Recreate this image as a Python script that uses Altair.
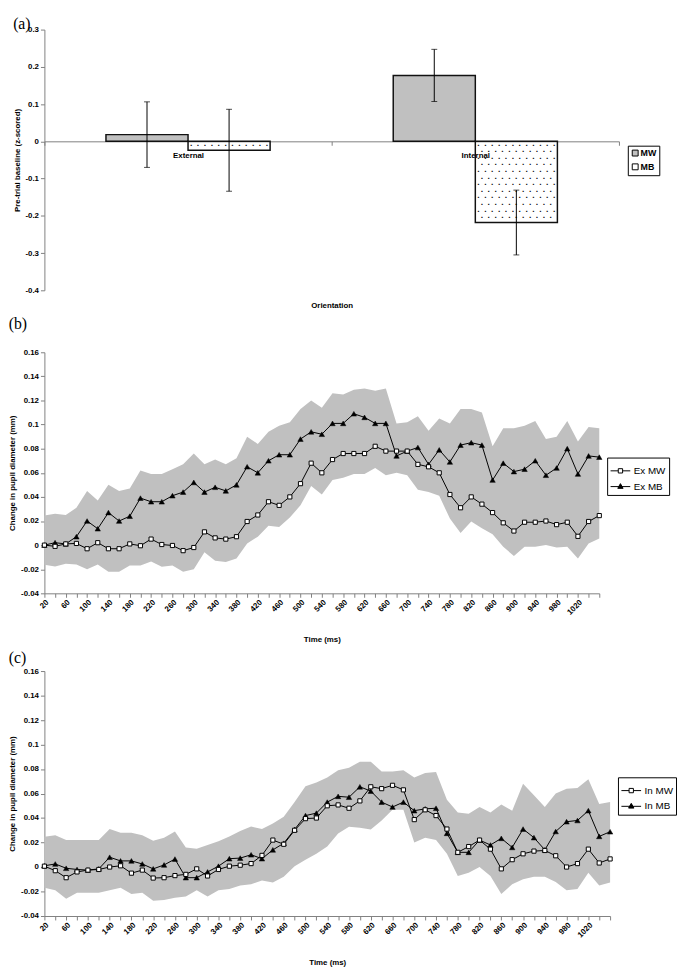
import altair as alt
import pandas as pd

SANS = "Liberation Sans"
SERIF = "Liberation Serif"
GRAY = "#808080"

# ---------------- Panel (a) data ----------------
orientation = ["External", "External", "Internal", "Internal"]
state = ["MW", "MB", "MW", "MB"]
baseline = [0.018, -0.024, 0.177, -0.218]
baseline_err = [0.088, 0.110, 0.070, 0.087]
a_yticks = [0.3, 0.2, 0.1, 0, -0.1, -0.2, -0.3, -0.4]

# ---------------- Panels (b)/(c) data ----------------
time_ms = [20, 40, 60, 80, 100, 120, 140, 160, 180, 200, 220, 240, 260, 280, 300,
           320, 340, 360, 380, 400, 420, 440, 460, 480, 500, 520, 540, 560, 580, 600,
           620, 640, 660, 680, 700, 720, 740, 760, 780, 800, 820, 840, 860, 880, 900,
           920, 940, 960, 980, 1000, 1020, 1040, 1060]
time_labels = [20, 60, 100, 140, 180, 220, 260, 300, 340, 380, 420, 460, 500, 540,
               580, 620, 660, 700, 740, 780, 820, 860, 900, 940, 980, 1020]
pupil_yticks = [0.16, 0.14, 0.12, 0.1, 0.08, 0.06, 0.04, 0.02, 0, -0.02, -0.04]

ex_mw = [0, -0.001, 0.001, 0.0014, -0.003, 0.002, -0.003, -0.003, 0.001, -0.0005,
         0.005, 0.0005, -0.0003, -0.0046, -0.002, 0.011, 0.006, 0.005, 0.007, 0.0196,
         0.025, 0.036, 0.033, 0.040, 0.051, 0.068, 0.060, 0.071, 0.076, 0.076,
         0.076, 0.082, 0.078, 0.078, 0.078, 0.067, 0.065, 0.060, 0.042, 0.031,
         0.040, 0.034, 0.027, 0.0185, 0.0117, 0.019, 0.019, 0.020, 0.017, 0.019,
         0.0073, 0.0196, 0.0245]
ex_mb = [0, 0.002, 0.001, 0.007, 0.020, 0.0136, 0.027, 0.020, 0.024, 0.039,
         0.036, 0.036, 0.041, 0.044, 0.052, 0.044, 0.048, 0.045, 0.050, 0.065,
         0.060, 0.070, 0.075, 0.075, 0.088, 0.094, 0.092, 0.101, 0.101, 0.109,
         0.106, 0.101, 0.101, 0.074, 0.078, 0.081, 0.067, 0.079, 0.069, 0.083,
         0.085, 0.083, 0.054, 0.068, 0.061, 0.063, 0.070, 0.058, 0.064, 0.080,
         0.059, 0.074, 0.073]
ex_hi = [0.0245, 0.026, 0.025, 0.031, 0.045, 0.037, 0.050, 0.045, 0.047, 0.062,
         0.059, 0.059, 0.063, 0.067, 0.076, 0.067, 0.071, 0.067, 0.072, 0.090,
         0.084, 0.094, 0.099, 0.102, 0.113, 0.120, 0.114, 0.126, 0.125, 0.129,
         0.130, 0.128, 0.130, 0.101, 0.102, 0.107, 0.095, 0.105, 0.101, 0.113,
         0.113, 0.110, 0.082, 0.097, 0.097, 0.099, 0.103, 0.088, 0.090, 0.103,
         0.086, 0.098, 0.097]
ex_lo = [-0.0163, -0.0177, -0.0155, -0.016, -0.020, -0.016, -0.022, -0.022, -0.017, -0.017,
         -0.0136, -0.018, -0.017, -0.022, -0.020, -0.006, -0.013, -0.014, -0.011, 0.0014,
         0.007, 0.016, 0.015, 0.023, 0.033, 0.049, 0.042, 0.054, 0.056, 0.059,
         0.059, 0.064, 0.058, 0.060, 0.058, 0.046, 0.044, 0.041, 0.022, 0.010,
         0.0196, 0.014, 0.009, -0.0014, -0.009, -0.0014, -0.0014, 0, -0.002, -0.0014,
         -0.011, 0.0014, 0.0054]

in_mw = [0.0007, -0.003, -0.0087, -0.004, -0.0025, -0.002, 0, 0.001, -0.005, -0.0025,
         -0.009, -0.0087, -0.007, -0.006, -0.0015, -0.0073, -0.002, 0.0007, 0.0015, 0.0028,
         0.0095, 0.022, 0.0186, 0.030, 0.0395, 0.040, 0.050, 0.0507, 0.048, 0.054,
         0.0655, 0.064, 0.0667, 0.063, 0.0387, 0.0467, 0.042, 0.031, 0.012, 0.0167,
         0.022, 0.0146, -0.0015, 0.006, 0.0108, 0.013, 0.0135, 0.0092, 0, 0.0028,
         0.0146, 0.0033, 0.0066]
in_mb = [0.001, 0.0025, -0.001, -0.002, -0.0025, -0.0015, 0.008, 0.005, 0.005, 0.0025,
         -0.0015, 0.0017, 0.0065, -0.0087, -0.0087, -0.004, 0.0007, 0.0068, 0.0073, 0.010,
         0.0068, 0.014, 0.0194, 0.0307, 0.042, 0.044, 0.053, 0.0577, 0.057, 0.0655,
         0.062, 0.053, 0.049, 0.053, 0.046, 0.0475, 0.048, 0.0275, 0.012, 0.012,
         0.022, 0.018, 0.0234, 0.016, 0.031, 0.024, 0.014, 0.029, 0.037, 0.038,
         0.046, 0.025, 0.0288]
in_hi = [0.0247, 0.026, 0.022, 0.022, 0.022, 0.022, 0.031, 0.028, 0.028, 0.026,
         0.0215, 0.024, 0.029, 0.016, 0.015, 0.018, 0.021, 0.025, 0.0295, 0.033,
         0.031, 0.0355, 0.041, 0.053, 0.066, 0.069, 0.073, 0.079, 0.081, 0.086,
         0.086, 0.078, 0.078, 0.079, 0.073, 0.0767, 0.0775, 0.055, 0.0446, 0.0435,
         0.049, 0.0446, 0.051, 0.046, 0.068, 0.0585, 0.049, 0.060, 0.064, 0.0645,
         0.0716, 0.0515, 0.053]
in_lo = [-0.017, -0.019, -0.026, -0.021, -0.021, -0.021, -0.019, -0.017, -0.022, -0.021,
         -0.0275, -0.027, -0.025, -0.024, -0.019, -0.024, -0.019, -0.018, -0.015, -0.014,
         -0.011, -0.0127, -0.008, 0.0007, 0.006, 0.0108, 0.0167, 0.0274, 0.0328, 0.032,
         0.0306, 0.038, 0.0467, 0.0467, 0.020, 0.024, 0.022, 0.0108, -0.0074, -0.0047,
         0, -0.0074, -0.022, -0.014, -0.01, -0.008, -0.008, -0.0122, -0.019, -0.018,
         -0.0047, -0.015, -0.0127]

# legend symbols: line with square / triangle marker
PATH_MW = "M-1,0H-0.22M0.22,0H1M-0.22,-0.22H0.22V0.22H-0.22Z"
PATH_MB = "M-1,0H1M0,-0.3L0.27,0.18H-0.27Z"


def axis_common(**kw):
    base = dict(grid=False, domainColor=GRAY, tickColor=GRAY, tickSize=4,
                labelFont=SANS, labelFontSize=8, labelFontWeight="bold", labelColor="black",
                titleFont=SANS, titleFontSize=8, titleFontWeight="bold", titleColor="black")
    base.update(kw)
    return alt.Axis(**base)


# ---------------- Panel (a) ----------------
W_A, H_A = 584, 265
df_a = pd.DataFrame({"Orientation": orientation, "State": state,
                     "value": baseline, "err": baseline_err})
df_a["lo"] = df_a["value"] - df_a["err"]
df_a["hi"] = df_a["value"] + df_a["err"]

ys_a = alt.Scale(domain=[-0.4, 0.3], nice=False, zero=False)
x_a = alt.X("Orientation:N",
            scale=alt.Scale(domain=["External", "Internal"], paddingInner=0, paddingOuter=0),
            axis=axis_common(title="Orientation", offset=-H_A * 4 / 7, labelAngle=0,
                             tickBand="extent", labelPadding=6,
                             titleY=167, titleBaseline="middle"))
xo_a = alt.XOffset("State:N", scale=alt.Scale(domain=["MW", "MB"], paddingInner=0,
                                               paddingOuter=0.75))

bars = alt.Chart(df_a).mark_bar(stroke="#111111", strokeWidth=1.5).encode(
    x=x_a, xOffset=xo_a,
    y=alt.Y("value:Q", scale=ys_a,
            axis=axis_common(values=a_yticks, tickCount=len(a_yticks),
                             title="Pre-trial baseline (z-scored)",
                             labelExpr="'' + round(datum.value * 10) / 10",
                             labelPadding=2, titlePadding=4)),
    fill=alt.Fill("State:N",
                  scale=alt.Scale(domain=["MW", "MB"], range=["#c0c0c0", "rgba(255,255,255,0)"]),
                  legend=alt.Legend(title=None, orient="none", legendX=593, legendY=118,
                                    strokeColor="black", fillColor="white", padding=3,
                                    symbolType="square", symbolSize=36,
                                    symbolStrokeColor="black", symbolStrokeWidth=1,
                                    labelFont=SANS, labelFontSize=9, labelFontWeight="bold",
                                    labelOffset=1, rowPadding=3)),
)

# dotted texture of the MB bars (derived from the bar values)
DOT_STEP = 0.0177
dot_rows = alt.Chart(df_a).transform_filter(alt.datum.State == "MB").transform_calculate(
    k="sequence(0, floor(-datum.value / %f - 0.3))" % DOT_STEP
).transform_flatten(["k"]).transform_calculate(
    ydot="-(datum.k + 0.5) * %f" % DOT_STEP, par="datum.k % 2"
)
dot_layers = []
for par in (0, 1):
    for j in range(12):
        dx = -38.5 + j * 7 + (3.5 if par else 0)
        if dx > 40:
            continue
        dot_layers.append(
            dot_rows.transform_filter(alt.datum.par == par).mark_text(
                text="\u25a0", fontSize=2.5, color="black", dx=dx,
                align="center", baseline="middle").encode(
                x="Orientation:N", xOffset="State:N", y="ydot:Q"))

err_rule = alt.Chart(df_a).mark_rule(color="black", strokeWidth=1).encode(
    x="Orientation:N", xOffset="State:N", y="lo:Q", y2="hi:Q")
cap_hi = alt.Chart(df_a).mark_tick(color="black", size=6, thickness=1, orient="horizontal").encode(
    x="Orientation:N", xOffset="State:N", y="hi:Q")
cap_lo = alt.Chart(df_a).mark_tick(color="black", size=6, thickness=1, orient="horizontal").encode(
    x="Orientation:N", xOffset="State:N", y="lo:Q")

panel_a = alt.layer(bars, *dot_layers, err_rule, cap_hi, cap_lo).properties(
    width=W_A, height=H_A,
    title=alt.TitleParams("(a)", anchor="start", frame="bounds", font=SERIF, fontSize=16,
                          fontWeight="normal", offset=-6))


# ---------------- Panels (b), (c) ----------------
def pupil_panel(mw, mb, lo, hi, names, W, H, legend_xy, label, title_offset, tpad):
    n = len(time_ms)
    df = pd.DataFrame({"t": time_ms, "lo": lo, "hi": hi})
    long = pd.DataFrame({"t": time_ms + time_ms, "v": mw + mb,
                         "series": [names[0]] * n + [names[1]] * n})
    xs = alt.Scale(domain=[20, 1060], nice=False, zero=False)
    ys = alt.Scale(domain=[-0.04, 0.16], nice=False, zero=False)
    lab_list = ",".join(str(v) for v in time_labels)
    x_axis = axis_common(values=time_ms, tickCount=len(time_ms), title="Time (ms)",
                         labelExpr="indexof([" + lab_list + "], datum.value) >= 0 ? '' + datum.value : ''",
                         labelAngle=-45, labelOverlap=False, labelFlush=False, labelPadding=1,
                         titlePadding=tpad)
    y_axis = axis_common(values=pupil_yticks, tickCount=len(pupil_yticks),
                         title="Change in pupil diameter (mm)",
                         labelExpr="'' + round(datum.value * 100) / 100",
                         labelOverlap=False, labelPadding=2, titlePadding=4)
    band = alt.Chart(df).mark_area(color="#c0c0c0", opacity=1).encode(
        x=alt.X("t:Q", scale=xs, axis=x_axis),
        y=alt.Y("lo:Q", scale=ys, axis=y_axis),
        y2="hi:Q")
    lines = alt.Chart(long).mark_line(color="black", strokeWidth=1).encode(
        x="t:Q", y="v:Q", detail="series:N")
    pts_mb = alt.Chart(long).transform_filter(alt.datum.series == names[1]).mark_point(
        shape="triangle-up", filled=True, fill="black", stroke="black", strokeWidth=0.5,
        size=30, opacity=1).encode(x="t:Q", y="v:Q")
    pts_mw = alt.Chart(long).transform_filter(alt.datum.series == names[0]).mark_point(
        shape="square", filled=True, fill="white", stroke="black", strokeWidth=1,
        size=18, opacity=1).encode(x="t:Q", y="v:Q")
    leg = alt.Legend(title=None, orient="none", legendX=legend_xy[0], legendY=legend_xy[1],
                     strokeColor="black", fillColor="white", padding=3,
                     symbolSize=400, symbolStrokeColor="black", symbolStrokeWidth=1,
                     labelFont=SANS, labelFontSize=10, labelOffset=3, rowPadding=0)
    legend_layer = alt.Chart(long).transform_filter("false").mark_point(
        filled=True, strokeWidth=1, opacity=1).encode(
        x="t:Q", y="v:Q",
        shape=alt.Shape("series:N", scale=alt.Scale(domain=names, range=[PATH_MW, PATH_MB]),
                        legend=leg),
        fill=alt.Fill("series:N", scale=alt.Scale(domain=names, range=["white", "black"]),
                      legend=leg),
        stroke=alt.Stroke("series:N", scale=alt.Scale(domain=names, range=["black", "black"]),
                          legend=leg))
    return alt.layer(band, lines, pts_mb, pts_mw, legend_layer).properties(
        width=W, height=H,
        title=alt.TitleParams(label, anchor="start", frame="bounds", font=SERIF, fontSize=16,
                              fontWeight="normal", offset=title_offset))


panel_b = pupil_panel(ex_mw, ex_mb, ex_lo, ex_hi, ["Ex MW", "Ex MB"], 564, 245,
                      (572, 107), "(b)", 17, 20)
panel_c = pupil_panel(in_mw, in_mb, in_lo, in_hi, ["In MW", "In MB"], 575, 249,
                      (583, 108), "(c)", 1, 20)

chart = alt.vconcat(panel_a, panel_b, panel_c, spacing=6).resolve_scale(
    fill="independent", shape="independent", stroke="independent").resolve_legend(
    fill="independent", shape="independent", stroke="independent").configure_view(
    stroke=None).properties(padding=0)

chart.save("out.html", embed_options={"renderer": "svg", "actions": False})
